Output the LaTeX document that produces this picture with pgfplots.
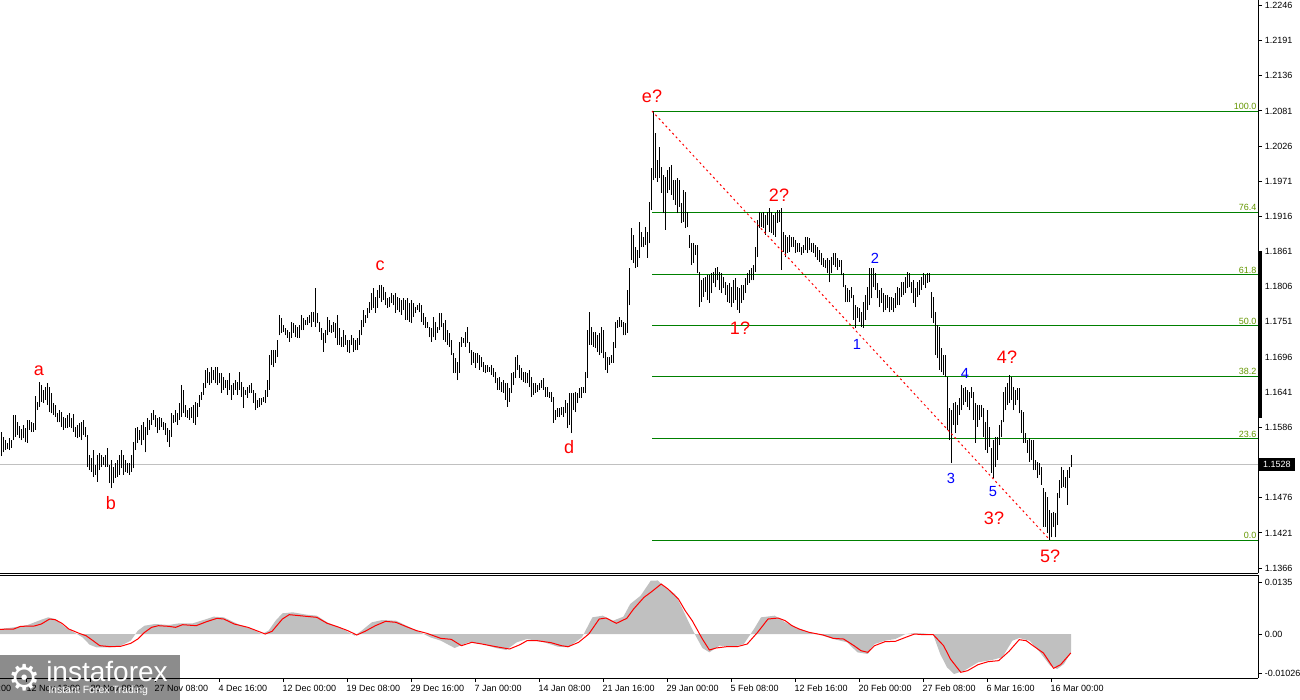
\documentclass[border=0pt]{standalone}
\usepackage{fontspec}
\setmainfont{Liberation Sans}
\newfontfamily\dejavu{DejaVu Sans}
\usepackage{pgfplots}
\usepackage{pgfplotstable}
\pgfplotsset{compat=1.18}
\definecolor{fibgreen}{RGB}{0,128,0}
\definecolor{fibtext}{RGB}{100,150,0}
\definecolor{histgray}{RGB}{192,192,192}
\definecolor{pricegray}{RGB}{192,192,192}
\definecolor{wred}{RGB}{255,0,0}
\definecolor{wblue}{RGB}{0,0,255}
\newcommand{\tickfont}{\fontsize{6.75pt}{8pt}\selectfont}
\newcommand{\redfont}{\fontsize{13.5pt}{14pt}\selectfont}
\newcommand{\bluefont}{\fontsize{11pt}{12pt}\selectfont}

\pgfplotstableread{
h l
1.1579 1.1541
1.1571 1.1547
1.1566 1.1551
1.1562 1.1552
1.1569 1.1551
1.1566 1.1554
1.1605 1.1566
1.1605 1.1571
1.1594 1.1574
1.1588 1.1569
1.1583 1.1566
1.1590 1.1569
1.1585 1.1563
1.1598 1.1562
1.1598 1.1582
1.1594 1.1579
1.1593 1.1579
1.1635 1.1582
1.1626 1.1613
1.1657 1.1618
1.1652 1.1626
1.1645 1.1624
1.1649 1.1629
1.1655 1.1621
1.1649 1.1610
1.1640 1.1608
1.1624 1.1605
1.1621 1.1602
1.1608 1.1594
1.1613 1.1594
1.1610 1.1587
1.1602 1.1582
1.1601 1.1585
1.1605 1.1585
1.1608 1.1587
1.1601 1.1585
1.1607 1.1579
1.1587 1.1571
1.1590 1.1569
1.1593 1.1571
1.1594 1.1566
1.1598 1.1574
1.1587 1.1571
1.1574 1.1524
1.1543 1.1519
1.1538 1.1516
1.1551 1.1508
1.1527 1.1512
1.1543 1.1501
1.1546 1.1519
1.1543 1.1524
1.1540 1.1527
1.1543 1.1524
1.1554 1.1524
1.1527 1.1499
1.1535 1.1491
1.1524 1.1499
1.1530 1.1507
1.1535 1.1508
1.1543 1.1512
1.1551 1.1522
1.1543 1.1512
1.1535 1.1516
1.1530 1.1515
1.1530 1.1512
1.1543 1.1516
1.1563 1.1522
1.1585 1.1551
1.1587 1.1562
1.1582 1.1566
1.1590 1.1558
1.1594 1.1566
1.1587 1.1547
1.1601 1.1574
1.1598 1.1582
1.1608 1.1590
1.1613 1.1598
1.1605 1.1587
1.1601 1.1577
1.1602 1.1582
1.1601 1.1587
1.1594 1.1582
1.1593 1.1574
1.1585 1.1563
1.1582 1.1555
1.1608 1.1571
1.1605 1.1593
1.1613 1.1594
1.1608 1.1590
1.1624 1.1598
1.1652 1.1602
1.1645 1.1608
1.1621 1.1602
1.1613 1.1601
1.1616 1.1598
1.1618 1.1601
1.1621 1.1593
1.1626 1.1590
1.1624 1.1602
1.1637 1.1618
1.1641 1.1629
1.1655 1.1637
1.1676 1.1648
1.1679 1.1655
1.1673 1.1652
1.1680 1.1655
1.1676 1.1660
1.1680 1.1655
1.1680 1.1652
1.1671 1.1655
1.1671 1.1640
1.1665 1.1645
1.1660 1.1648
1.1660 1.1637
1.1671 1.1645
1.1652 1.1629
1.1655 1.1637
1.1660 1.1645
1.1657 1.1637
1.1673 1.1645
1.1657 1.1634
1.1649 1.1616
1.1645 1.1637
1.1649 1.1632
1.1652 1.1640
1.1655 1.1640
1.1645 1.1624
1.1640 1.1613
1.1629 1.1616
1.1632 1.1618
1.1632 1.1621
1.1634 1.1626
1.1645 1.1624
1.1660 1.1634
1.1699 1.1645
1.1707 1.1684
1.1707 1.1680
1.1707 1.1687
1.1723 1.1696
1.1762 1.1730
1.1757 1.1734
1.1746 1.1735
1.1742 1.1730
1.1738 1.1726
1.1735 1.1720
1.1751 1.1726
1.1749 1.1734
1.1746 1.1727
1.1743 1.1726
1.1746 1.1726
1.1762 1.1738
1.1757 1.1738
1.1754 1.1746
1.1759 1.1746
1.1762 1.1749
1.1766 1.1743
1.1766 1.1751
1.1804 1.1743
1.1765 1.1749
1.1751 1.1735
1.1742 1.1723
1.1734 1.1704
1.1738 1.1718
1.1759 1.1730
1.1754 1.1735
1.1746 1.1734
1.1751 1.1735
1.1749 1.1726
1.1762 1.1715
1.1742 1.1715
1.1727 1.1712
1.1738 1.1712
1.1730 1.1715
1.1723 1.1704
1.1723 1.1702
1.1730 1.1715
1.1726 1.1704
1.1723 1.1707
1.1726 1.1707
1.1738 1.1715
1.1754 1.1730
1.1770 1.1743
1.1762 1.1749
1.1773 1.1757
1.1782 1.1765
1.1796 1.1770
1.1804 1.1773
1.1790 1.1765
1.1801 1.1773
1.1809 1.1788
1.1809 1.1782
1.1805 1.1785
1.1798 1.1777
1.1788 1.1773
1.1790 1.1774
1.1796 1.1781
1.1793 1.1777
1.1796 1.1765
1.1790 1.1770
1.1788 1.1766
1.1785 1.1762
1.1788 1.1770
1.1785 1.1754
1.1788 1.1754
1.1781 1.1751
1.1785 1.1749
1.1781 1.1759
1.1774 1.1765
1.1777 1.1770
1.1781 1.1766
1.1777 1.1751
1.1765 1.1746
1.1759 1.1742
1.1751 1.1742
1.1743 1.1727
1.1742 1.1720
1.1759 1.1727
1.1751 1.1723
1.1743 1.1734
1.1765 1.1738
1.1765 1.1743
1.1749 1.1723
1.1754 1.1720
1.1738 1.1715
1.1734 1.1712
1.1723 1.1699
1.1702 1.1671
1.1694 1.1671
1.1688 1.1660
1.1720 1.1671
1.1727 1.1712
1.1726 1.1718
1.1735 1.1712
1.1743 1.1718
1.1720 1.1702
1.1707 1.1684
1.1704 1.1687
1.1702 1.1679
1.1702 1.1687
1.1699 1.1676
1.1696 1.1680
1.1688 1.1673
1.1684 1.1671
1.1684 1.1673
1.1680 1.1673
1.1684 1.1668
1.1679 1.1665
1.1673 1.1655
1.1663 1.1645
1.1665 1.1645
1.1657 1.1641
1.1660 1.1640
1.1655 1.1629
1.1655 1.1618
1.1648 1.1626
1.1671 1.1640
1.1673 1.1652
1.1696 1.1663
1.1699 1.1676
1.1684 1.1663
1.1679 1.1660
1.1673 1.1657
1.1673 1.1655
1.1671 1.1655
1.1676 1.1649
1.1665 1.1634
1.1655 1.1637
1.1655 1.1640
1.1652 1.1641
1.1655 1.1645
1.1660 1.1648
1.1663 1.1645
1.1649 1.1634
1.1649 1.1634
1.1641 1.1632
1.1641 1.1626
1.1634 1.1593
1.1613 1.1598
1.1616 1.1602
1.1616 1.1602
1.1618 1.1605
1.1618 1.1602
1.1629 1.1608
1.1624 1.1585
1.1640 1.1590
1.1640 1.1577
1.1640 1.1613
1.1641 1.1610
1.1640 1.1624
1.1648 1.1632
1.1649 1.1632
1.1649 1.1640
1.1673 1.1640
1.1738 1.1663
1.1766 1.1715
1.1743 1.1715
1.1735 1.1712
1.1735 1.1710
1.1730 1.1704
1.1734 1.1699
1.1743 1.1702
1.1738 1.1694
1.1704 1.1676
1.1696 1.1671
1.1696 1.1684
1.1699 1.1687
1.1720 1.1687
1.1751 1.1710
1.1754 1.1742
1.1759 1.1743
1.1754 1.1743
1.1751 1.1730
1.1749 1.1730
1.1801 1.1734
1.1835 1.1777
1.1898 1.1848
1.1887 1.1843
1.1868 1.1835
1.1864 1.1837
1.1907 1.1851
1.1892 1.1868
1.1884 1.1868
1.1899 1.1871
1.1892 1.1851
1.1939 1.1874
1.1992 1.1926
1.2081 1.1973
1.2047 1.1976
1.2004 1.1970
1.2025 1.1976
1.1993 1.1953
1.1981 1.1921
1.1978 1.1895
1.1989 1.1953
1.1993 1.1957
1.1996 1.1950
1.1973 1.1942
1.1973 1.1934
1.1976 1.1921
1.1973 1.1931
1.1937 1.1906
1.1957 1.1907
1.1954 1.1898
1.1923 1.1899
1.1887 1.1867
1.1874 1.1840
1.1874 1.1843
1.1871 1.1856
1.1871 1.1827
1.1829 1.1774
1.1816 1.1782
1.1820 1.1790
1.1821 1.1798
1.1824 1.1785
1.1824 1.1781
1.1827 1.1796
1.1829 1.1812
1.1835 1.1805
1.1837 1.1816
1.1829 1.1801
1.1827 1.1796
1.1821 1.1804
1.1813 1.1793
1.1809 1.1782
1.1812 1.1781
1.1805 1.1774
1.1816 1.1781
1.1820 1.1785
1.1805 1.1770
1.1804 1.1765
1.1809 1.1781
1.1809 1.1785
1.1820 1.1796
1.1827 1.1809
1.1832 1.1812
1.1835 1.1816
1.1840 1.1816
1.1868 1.1829
1.1910 1.1852
1.1923 1.1898
1.1921 1.1899
1.1923 1.1898
1.1918 1.1887
1.1923 1.1903
1.1929 1.1892
1.1923 1.1890
1.1918 1.1887
1.1921 1.1884
1.1926 1.1906
1.1926 1.1907
1.1929 1.1832
1.1892 1.1860
1.1887 1.1852
1.1884 1.1859
1.1887 1.1860
1.1884 1.1868
1.1884 1.1868
1.1879 1.1859
1.1874 1.1860
1.1874 1.1860
1.1868 1.1856
1.1871 1.1859
1.1884 1.1863
1.1884 1.1859
1.1882 1.1863
1.1874 1.1860
1.1874 1.1859
1.1871 1.1852
1.1868 1.1848
1.1863 1.1845
1.1859 1.1840
1.1851 1.1837
1.1848 1.1835
1.1851 1.1827
1.1848 1.1813
1.1852 1.1827
1.1859 1.1840
1.1859 1.1837
1.1851 1.1832
1.1848 1.1837
1.1848 1.1824
1.1827 1.1805
1.1809 1.1782
1.1804 1.1782
1.1801 1.1782
1.1805 1.1788
1.1793 1.1754
1.1777 1.1742
1.1774 1.1757
1.1773 1.1751
1.1766 1.1743
1.1782 1.1742
1.1793 1.1754
1.1805 1.1770
1.1835 1.1777
1.1835 1.1788
1.1835 1.1805
1.1827 1.1801
1.1812 1.1788
1.1801 1.1774
1.1804 1.1781
1.1796 1.1766
1.1793 1.1770
1.1793 1.1773
1.1790 1.1766
1.1790 1.1770
1.1788 1.1766
1.1796 1.1773
1.1805 1.1777
1.1804 1.1777
1.1813 1.1790
1.1813 1.1793
1.1821 1.1796
1.1829 1.1804
1.1827 1.1805
1.1813 1.1796
1.1816 1.1781
1.1804 1.1774
1.1813 1.1790
1.1816 1.1793
1.1821 1.1801
1.1827 1.1809
1.1824 1.1804
1.1827 1.1812
1.1827 1.1813
1.1798 1.1757
1.1790 1.1749
1.1766 1.1699
1.1746 1.1694
1.1743 1.1676
1.1710 1.1673
1.1699 1.1668
1.1699 1.1665
1.1665 1.1582
1.1616 1.1566
1.1613 1.1530
1.1624 1.1590
1.1626 1.1577
1.1621 1.1590
1.1632 1.1605
1.1652 1.1613
1.1648 1.1621
1.1649 1.1626
1.1645 1.1618
1.1641 1.1613
1.1649 1.1632
1.1641 1.1598
1.1624 1.1562
1.1621 1.1587
1.1621 1.1598
1.1621 1.1602
1.1616 1.1571
1.1594 1.1551
1.1613 1.1546
1.1587 1.1555
1.1554 1.1515
1.1566 1.1507
1.1571 1.1524
1.1571 1.1535
1.1590 1.1558
1.1598 1.1571
1.1641 1.1594
1.1649 1.1613
1.1655 1.1621
1.1668 1.1624
1.1665 1.1629
1.1649 1.1613
1.1645 1.1621
1.1648 1.1629
1.1648 1.1608
1.1613 1.1577
1.1610 1.1562
1.1577 1.1562
1.1566 1.1546
1.1569 1.1532
1.1566 1.1535
1.1566 1.1519
1.1535 1.1519
1.1532 1.1507
1.1530 1.1512
1.1524 1.1496
1.1491 1.1430
1.1485 1.1430
1.1477 1.1421
1.1457 1.1410
1.1452 1.1414
1.1454 1.1430
1.1452 1.1414
1.1483 1.1433
1.1504 1.1475
1.1524 1.1491
1.1519 1.1493
1.1508 1.1491
1.1519 1.1465
1.1524 1.1507
1.1543 1.1524
}\bars

\begin{document}
\begin{tikzpicture}
\path[use as bounding box] (0pt,0pt) rectangle (975pt,-525pt);
\begin{axis}[
  at={(0pt,0pt)}, anchor=north west,
  scale only axis, width=943.5pt, height=429.75pt,
  xmin=-0.5, xmax=628.5, ymin=1.13582, ymax=1.22546,
  axis x line*=bottom, axis y line*=right,
  axis line style={-, line width=0.75pt, black},
  xtick=\empty,
  ytick={1.2246,1.2191,1.2136,1.2081,1.2026,1.1971,1.1916,1.1861,1.1806,1.1751,1.1696,1.1641,1.1586,1.1476,1.1421,1.1366},
  yticklabels={1.2246,1.2191,1.2136,1.2081,1.2026,1.1971,1.1916,1.1861,1.1806,1.1751,1.1696,1.1641,1.1586,1.1476,1.1421,1.1366},
  scaled y ticks=false,
  tick align=outside, major tick length=3pt,
  tick style={black, line width=0.75pt},
  yticklabel style={font=\tickfont, anchor=west, inner sep=0pt, xshift=2pt},
  clip=false,
]
% current price line
\addplot[pricegray, line width=0.75pt, forget plot] coordinates {(-0.5,1.1528) (628.5,1.1528)};
% fibonacci levels
\addplot[fibgreen, line width=0.75pt, forget plot] coordinates {(325.5,1.20809) (628.5,1.20809)};
\addplot[fibgreen, line width=0.75pt, forget plot] coordinates {(325.5,1.19226) (628.5,1.19226)};
\addplot[fibgreen, line width=0.75pt, forget plot] coordinates {(325.5,1.18247) (628.5,1.18247)};
\addplot[fibgreen, line width=0.75pt, forget plot] coordinates {(325.5,1.17455) (628.5,1.17455)};
\addplot[fibgreen, line width=0.75pt, forget plot] coordinates {(325.5,1.16663) (628.5,1.16663)};
\addplot[fibgreen, line width=0.75pt, forget plot] coordinates {(325.5,1.15684) (628.5,1.15684)};
\addplot[fibgreen, line width=0.75pt, forget plot] coordinates {(325.5,1.14098) (628.5,1.14098)};
% price bars (high-low)
\addplot[draw=none, mark=none, forget plot,
  error bars/.cd, y dir=plus, y explicit, error mark=none,
  error bar style={draw=black, solid, line width=0.75pt}]
  table[x expr=\coordindex, y=l, y error expr=\thisrow{h}-\thisrow{l}] {\bars};
% trend line
\addplot[wred, line width=0.75pt, dash pattern=on 1.5pt off 2.25pt, forget plot] coordinates {(325.5,1.20809) (524.5,1.14098)};
% fib labels
\begin{scope}[every node/.style={font=\tickfont, text=fibtext, anchor=south east, inner sep=0.8pt}]
\node at (axis cs:628.3,1.20809) {100.0};
\node at (axis cs:628.3,1.19226) {76.4};
\node at (axis cs:628.3,1.18247) {61.8};
\node at (axis cs:628.3,1.17455) {50.0};
\node at (axis cs:628.3,1.16663) {38.2};
\node at (axis cs:628.3,1.15684) {23.6};
\node at (axis cs:628.3,1.14098) {0.0};
\end{scope}
% wave labels
\begin{scope}[every node/.style={font=\redfont, text=wred, inner sep=0pt}]
\node at (axis cs:19,1.16742) {a};
\node at (axis cs:55,1.14677) {b};
\node at (axis cs:189.5,1.18385) {c};
\node at (axis cs:284,1.15553) {d};
\node at (axis cs:325.5,1.21044) {e?};
\node at (axis cs:389,1.19495) {2?};
\node at (axis cs:369.5,1.17415) {1?};
\node at (axis cs:503,1.16961) {4?};
\node at (axis cs:496.5,1.14442) {3?};
\node at (axis cs:524.5,1.13848) {5?};
\end{scope}
\begin{scope}[every node/.style={font=\bluefont, text=wblue, inner sep=0pt}]
\node at (axis cs:437,1.18510) {2};
\node at (axis cs:428,1.17164) {1};
\node at (axis cs:482,1.16711) {4};
\node at (axis cs:475,1.15068) {3};
\node at (axis cs:496,1.14849) {5};
\end{scope}
% price scale marker and current price tag
\draw[black, line width=2.5pt] (axis cs:629.5,1.18604) -- (axis cs:629.5,1.16008);
\node[fill=black, text=white, font=\tickfont, anchor=west, inner xsep=3.2pt, inner ysep=2.4pt] at (axis cs:628.8,1.1528) {1.1528};
\end{axis}

\begin{axis}[
  at={(0pt,-431.25pt)}, anchor=north west,
  scale only axis, width=943.5pt, height=77.25pt,
  xmin=-0.5, xmax=628.5, ymin=-0.011423, ymax=0.015317,
  axis x line*=bottom, axis y line*=right,
  axis line style={-, line width=0.75pt, black},
  xtick={13,45,77,109,141,173,205,237,269,301,333,365,397,429,461,493,525},
  xticklabels={12 Nov 16:00,20 Nov 00:00,27 Nov 08:00,4 Dec 16:00,12 Dec 00:00,19 Dec 08:00,29 Dec 16:00,7 Jan 00:00,14 Jan 08:00,21 Jan 16:00,29 Jan 00:00,5 Feb 08:00,12 Feb 16:00,20 Feb 00:00,27 Feb 08:00,6 Mar 16:00,16 Mar 00:00},
  ytick={0.0135,0,-0.01026},
  yticklabels={0.0135,0.00,-0.01026},
  scaled y ticks=false, scaled x ticks=false,
  tick align=outside, major tick length=3pt,
  tick style={black, line width=0.75pt},
  yticklabel style={font=\tickfont, anchor=west, inner sep=0pt, xshift=2pt},
  xticklabel style={font=\tickfont, anchor=north west, inner sep=0pt, xshift=-0.5pt, yshift=-2pt},
  clip=false,
]
\addplot[fill=histgray, draw=none, forget plot] coordinates {
(-0.5,0.00130) (6.4,0.00173) (13.3,0.00234) (20.2,0.00372) (23.6,0.00433) (27.1,0.00389) (32.2,0.00173) (37.4,0.00017) (40.8,-0.00087) (44.3,-0.00277) (47.7,-0.00346) (54.6,-0.00346) (59.8,-0.00303) (64.9,-0.00173) (68.4,0.00087) (71.8,0.00216) (77.0,0.00260) (83.9,0.00234) (89.0,0.00277) (95.9,0.00277) (102.8,0.00389) (106.3,0.00450) (111.4,0.00433) (118.3,0.00260) (125.2,0.00130) (130.4,0) (133.8,0.00087) (137.3,0.00346) (140.7,0.00537) (145.9,0.00563) (152.8,0.00502) (157.9,0.00476) (163.1,0.00303) (171.7,0.00104) (176.8,-0.00043) (180.3,0.00087) (185.4,0.00303) (190.6,0.00363) (197.5,0.00346) (202.7,0.00216) (209.6,0.00043) (214.7,-0.00087) (219.9,-0.00173) (226.8,-0.00363) (233.7,-0.00216) (240.5,-0.00260) (247.4,-0.00363) (252.6,-0.00415) (257.8,-0.00216) (263.0,-0.00130) (271.6,-0.00216) (278.4,-0.00329) (283.6,-0.00346) (290.5,-0.00087) (295.7,0.00433) (300.8,0.00476) (306.0,0.00346) (311.2,0.00450) (314.6,0.00779) (319.8,0.00995) (324.9,0.01385) (328.4,0.01390) (331.8,0.01212) (337.0,0.01038) (340.4,0.00692) (343.9,0.00303) (347.3,-0.00043) (350.7,-0.00363) (354.2,-0.00476) (359.3,-0.00303) (366.2,-0.00329) (371.4,-0.00260) (376.5,0.00130) (380.0,0.00433) (386.9,0.00476) (392.1,0.00303) (397.2,0.00173) (404.1,0.00043) (411.0,-0.00043) (416.2,-0.00130) (423.1,-0.00216) (428.2,-0.00476) (433.4,-0.00519) (436.8,-0.00260) (442.0,-0.00173) (447.2,-0.00130) (452.3,0) (455.8,0.00017) (461.0,0.00017) (466.1,-0.00017) (469.6,-0.00519) (473.0,-0.00865) (476.5,-0.01038) (481.6,-0.00952) (488.5,-0.00736) (495.4,-0.00675) (500.6,-0.00606) (505.7,-0.00173) (509.1,-0.00104) (514.3,-0.00173) (519.5,-0.00476) (524.6,-0.00822) (528.1,-0.00909) (531.5,-0.00779) (535.0,-0.00476)
} \closedcycle;
\addplot[wred, line width=0.75pt, forget plot] coordinates {
(-0.5,0.00121) (6.4,0.00130) (9.8,0.00199) (16.7,0.00208) (20.2,0.00260) (24.3,0.00389) (27.1,0.00372) (30.5,0.00277) (33.9,0.00130) (39.1,0.00017) (42.5,-0.00043) (46.0,-0.00173) (49.4,-0.00303) (54.6,-0.00329) (59.8,-0.00320) (64.9,-0.00242) (68.4,-0.00130) (71.8,0.00043) (75.3,0.00173) (78.7,0.00216) (83.9,0.00199) (87.3,0.00173) (90.8,0.00242) (97.6,0.00216) (102.8,0.00320) (108.0,0.00407) (111.4,0.00389) (116.6,0.00260) (123.5,0.00173) (132.1,0) (135.5,0.00069) (140.7,0.00389) (144.1,0.00502) (151.0,0.00467) (157.9,0.00433) (163.1,0.00277) (168.2,0.00190) (173.4,0.00087) (177.9,-0.00026) (182.0,0.00069) (187.2,0.00216) (192.3,0.00329) (197.5,0.00303) (202.7,0.00190) (207.8,0.00087) (213.0,0.00017) (219.9,-0.00113) (225.1,-0.00138) (230.2,-0.00303) (235.4,-0.00216) (240.5,-0.00260) (247.4,-0.00329) (254.3,-0.00389) (259.5,-0.00277) (263.0,-0.00173) (268.1,-0.00173) (275.0,-0.00225) (280.2,-0.00303) (283.6,-0.00329) (288.8,-0.00216) (293.9,0) (299.1,0.00389) (302.5,0.00415) (307.7,0.00277) (312.9,0.00407) (316.3,0.00649) (321.5,0.00952) (324.9,0.01082) (330.1,0.01298) (333.5,0.01168) (338.7,0.00909) (342.1,0.00606) (345.6,0.00346) (350.7,-0.00130) (354.2,-0.00415) (357.6,-0.00363) (362.8,-0.00329) (368.0,-0.00329) (373.1,-0.00260) (378.3,0.00043) (383.5,0.00389) (388.6,0.00415) (392.1,0.00346) (395.5,0.00216) (399.0,0.00130) (404.1,0.00043) (411.0,-0.00026) (416.2,-0.00113) (421.3,-0.00130) (426.5,-0.00303) (430.0,-0.00433) (433.4,-0.00476) (436.8,-0.00303) (442.0,-0.00199) (447.2,-0.00190) (452.3,-0.00087) (456.8,0) (461.0,-0.00017) (466.1,-0.00017) (471.3,-0.00303) (474.7,-0.00649) (479.9,-0.00995) (483.3,-0.00952) (488.5,-0.00796) (493.6,-0.00718) (498.8,-0.00692) (504.0,-0.00450) (509.1,-0.00147) (512.6,-0.00173) (516.0,-0.00303) (521.2,-0.00493) (526.3,-0.00891) (529.8,-0.00796) (534.9,-0.00493)
};
\draw[black, line width=0.75pt] (rel axis cs:0,1) -- (rel axis cs:1,1);
\node[font=\tickfont, anchor=north west, inner sep=0pt, xshift=-0.5pt, yshift=-5pt] at (axis cs:-19,-0.011423) {5 Nov 08:00};
\end{axis}

% watermark logo
\fill[black, opacity=0.45] (0pt,-491.25pt) rectangle (135pt,-525pt);
\node[text=white, font=\dejavu\fontsize{27pt}{27pt}\selectfont, inner sep=0pt] at (18.5pt,-508.5pt) {⚙};
\node[text=white, font=\fontsize{21pt}{21pt}\selectfont, anchor=base west, inner sep=0pt] at (34.5pt,-511.3pt) {instaforex};
\node[text=white, font=\fontsize{7.9pt}{8pt}\selectfont, anchor=west, inner sep=0pt] at (36pt,-518pt) {Instant Forex Trading};
\end{tikzpicture}
\end{document}
